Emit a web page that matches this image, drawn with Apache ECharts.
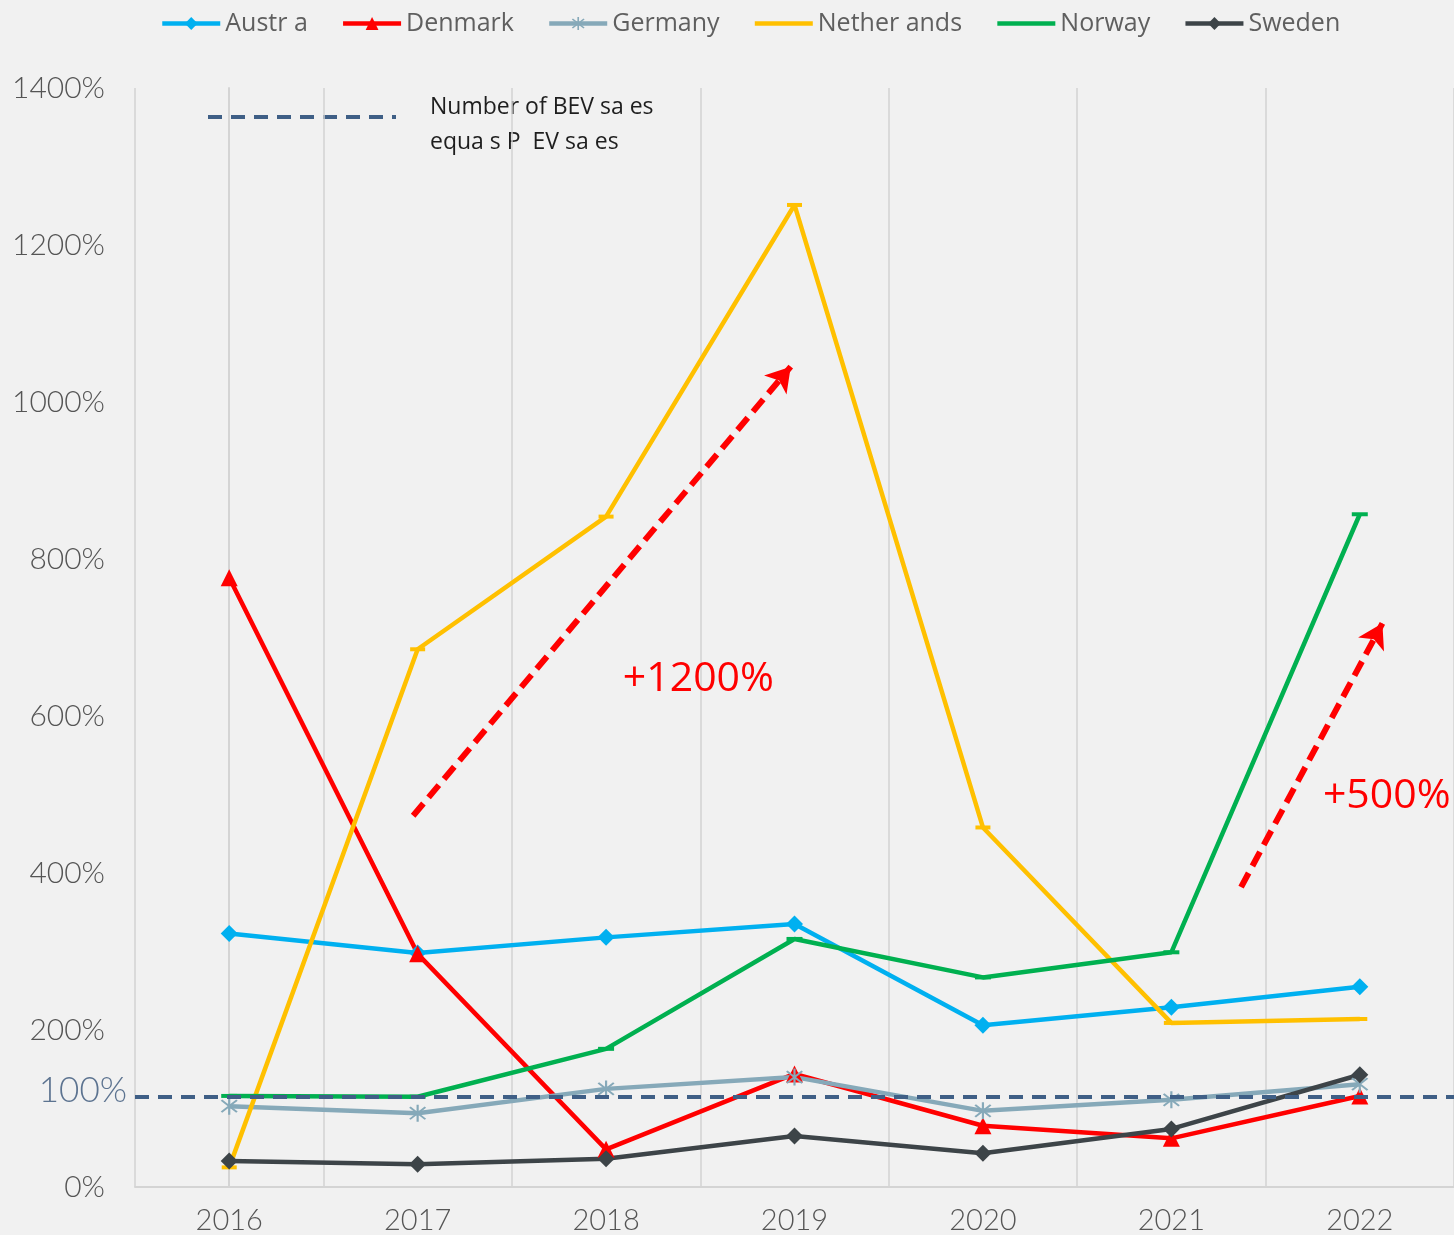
<!DOCTYPE html>
<html>
<head>
<meta charset="utf-8">
<script src="https://cdn.jsdelivr.net/npm/echarts@6/dist/echarts.min.js"></script>
<style>
html,body{margin:0;padding:0;background:#f1f1f1;}
#chart{width:1454px;height:1235px;}
</style>
</head>
<body>
<div id="chart"></div>
<script>
// ---- data ----
const years = ['2016', '2017', '2018', '2019', '2020', '2021', '2022'];
const austria     = [323, 298, 318, 335, 206, 229, 255];
const denmark     = [776, 297, 48, 144, 78, 62, 116];
const germany     = [103, 94, 125, 140, 97, 111, 131];
const netherlands = [25, 685, 854, 1251, 458, 209, 214];
const norway      = [116, 115, 176, 316, 267, 299, 857];
const sweden      = [33, 29, 36, 65, 43, 74, 143];
const seriesNames = ['Austr a', 'Denmark', 'Germany', 'Nether ands', 'Norway', 'Sweden'];
const yMin = 0, yMax = 1400, yInterval = 200;
const baselineValue = 115;          // dashed "BEV = PHEV" line as drawn
const baselineLabel = '100%';
const noteLines = ['Number of BEV sa es', 'equa s P  EV sa es'];
// annotation arrows: [startIndex, startValue, endIndex, endValue]
const arrow1 = [0.976, 473, 2.98, 1045];
const arrow2 = [5.37, 382, 6.12, 718];
// annotation texts: [index, value, text]
const note1 = [2.49, 647, '+1200%'];
const note2 = [6.143, 498, '+500%'];

const chart = echarts.init(document.getElementById('chart'));
const asterisk = 'path://M-1,-10L1,-10L1,10L-1,10Z M-7.8,-6.4L-6.4,-7.8L7.8,6.4L6.4,7.8Z M6.4,-7.8L7.8,-6.4L-6.4,7.8L-7.8,6.4Z';

function lineSeries(name, data, color, symbol, size) {
  return {
    name: name, type: 'line', data: data,
    symbol: symbol, symbolSize: size, showAllSymbol: true,
    lineStyle: { color: color, width: 4.5 },
    itemStyle: { color: color, borderWidth: 0 },
    emphasis: { disabled: true },
    z: 3
  };
}

const legendData = seriesNames.map(function (n, i) {
  return (i === 3 || i === 4) ? { name: n, itemStyle: { opacity: 0 } } : { name: n };
});

const option = {
  backgroundColor: '#f1f1f1',
  animation: false,
  legend: {
    top: 6, left: 155,
    itemWidth: 58, itemHeight: 16, itemGap: 33,
    lineStyle: { width: 4.5 },
    textStyle: { fontFamily: 'Open Sans', fontSize: 25, color: '#5f5f5f' },
    data: legendData
  },
  grid: { left: 135, right: 0, top: 88, bottom: 47 },
  xAxis: [{
    type: 'category', data: years, boundaryGap: true,
    axisLine: { show: true, lineStyle: { color: '#d4d4d4', width: 2 } },
    axisTick: { show: false },
    axisLabel: { fontFamily: 'Lato', fontWeight: 300, fontSize: 29, color: '#555', margin: 19 },
    splitLine: { show: true, lineStyle: { color: '#d2d2d2', width: 1.5 } }
  }, {
    type: 'value', min: -0.5, max: 6.5, show: false
  }],
  yAxis: {
    type: 'value', min: yMin, max: yMax, interval: yInterval,
    axisLine: { show: true, lineStyle: { color: '#d4d4d4', width: 2 } },
    axisTick: { show: false },
    splitLine: { show: false },
    axisLabel: { formatter: function (v) { return v + '%'; }, fontFamily: 'Lato', fontWeight: 300, fontSize: 30, color: '#555', margin: 30 }
  },
  graphic: [
    { type: 'line', shape: { x1: 208, y1: 117, x2: 396, y2: 117 },
      style: { stroke: '#3f5f86', lineWidth: 4, lineDash: [14, 9] } },
    { type: 'text', left: 430, top: 90,
      style: { text: noteLines.join('\n'), fontFamily: 'Open Sans', fontSize: 23, lineHeight: 35, fill: '#1e1e1e' } }
  ],
  series: [
    lineSeries(seriesNames[0], austria, '#00b0f0', 'diamond', 17),
    lineSeries(seriesNames[1], denmark, '#ff0000', 'triangle', 17),
    lineSeries(seriesNames[2], germany, '#86a9b9', asterisk, 17),
    lineSeries(seriesNames[3], netherlands, '#ffc000', 'rect', [15, 4]),
    lineSeries(seriesNames[4], norway, '#00b050', 'rect', [16, 4]),
    lineSeries(seriesNames[5], sweden, '#3d4448', 'diamond', 17),
    {
      name: 'baseline', type: 'line', data: [],
      markLine: {
        silent: true, symbol: ['none', 'none'], z: 5,
        lineStyle: { color: '#3f5f86', width: 4, type: [14, 9] },
        label: { show: true, position: 'start', formatter: baselineLabel, distance: 8,
                 fontFamily: 'Lato', fontWeight: 300, fontSize: 35, color: '#5c7390', offset: [0, -6] },
        data: [{ yAxis: baselineValue }]
      }
    },
    {
      name: 'annotations', type: 'line', xAxisIndex: 1, yAxisIndex: 0, data: [],
      markLine: {
        silent: true, symbol: ['none', 'arrow'], symbolSize: [22, 24], z: 6,
        lineStyle: { color: '#ff0000', width: 6, type: [16, 8] },
        label: { show: false },
        data: [
          [{ coord: [arrow1[0], arrow1[1]] }, { coord: [arrow1[2], arrow1[3]] }],
          [{ coord: [arrow2[0], arrow2[1]] }, { coord: [arrow2[2], arrow2[3]] }]
        ]
      },
      markPoint: {
        silent: true, symbol: 'circle', symbolSize: 1,
        itemStyle: { color: 'rgba(0,0,0,0)' },
        label: { show: true, position: 'inside', fontFamily: 'Open Sans', fontSize: 41, color: '#ff0000',
                 formatter: function (p) { return p.name; } },
        data: [
          { name: note1[2], coord: [note1[0], note1[1]] },
          { name: note2[2], coord: [note2[0], note2[1]] }
        ]
      }
    }
  ]
};
chart.setOption(option);
</script>
</body>
</html>
